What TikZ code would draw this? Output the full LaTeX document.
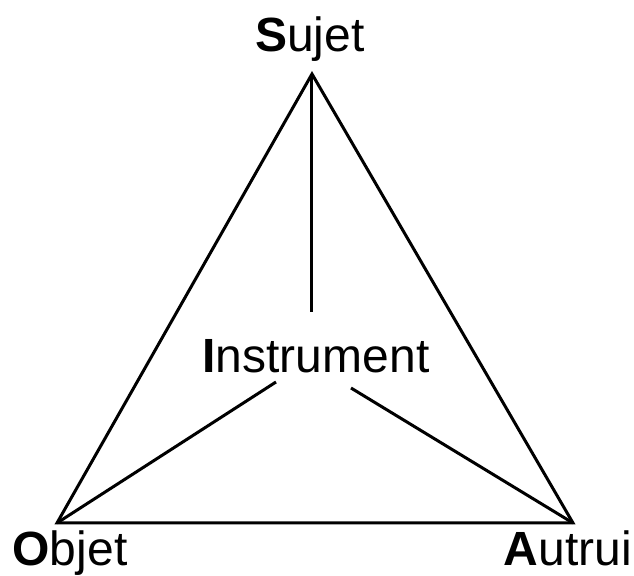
\documentclass[tikz,border=0pt]{standalone}
\usepackage{fontspec}
\setmainfont{Liberation Sans}
\usetikzlibrary{positioning}

\begin{document}
\begin{tikzpicture}[x=.5pt,y=-.5pt,
  every node/.style={font=\fontsize{24}{28}\selectfont},
  pole/.style={anchor=base,inner sep=0pt},
  edge/.style={line width=1.5pt}]
 \useasboundingbox (0,0) rectangle (634,576);
 % corners of the triangle
 \coordinate (s) at (312,74);
 \coordinate (o) at (57,523);
 \coordinate (a) at (573,523);
 \node[pole] (sujet) at (310,52) {\textbf{S}ujet};
 \node[pole] (objet) at (70,566) {\textbf{O}bjet};
 \node[pole] (autrui) at (568,566) {\textbf{A}utrui};
 \node[pole] (instr) at (316,373) {\textbf{I}nstrument};
 % ends of the inner lines
 \coordinate (itop) at (312,312);
 \coordinate (ileft) at (276,382);
 \coordinate (iright) at (351,388);
 \draw[edge] (s)--(o)--(a)--cycle;
 \draw[edge] (s)--(itop);
 \draw[edge] (ileft)--(o);
 \draw[edge] (iright)--(a);
\end{tikzpicture}
\end{document}
